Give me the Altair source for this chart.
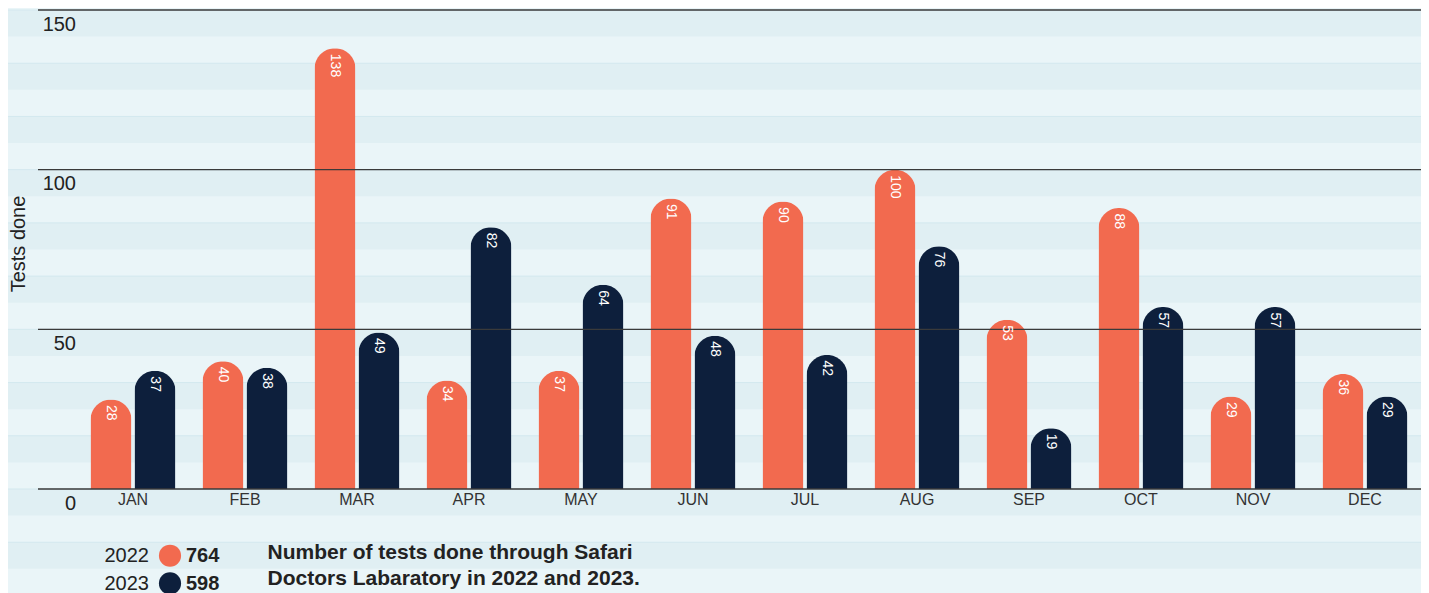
import altair as alt
import pandas as pd

# ---------------- data ----------------
months = ["JAN", "FEB", "MAR", "APR", "MAY", "JUN", "JUL", "AUG", "SEP", "OCT", "NOV", "DEC"]
tests_2022 = [28, 40, 138, 34, 37, 91, 90, 100, 53, 88, 29, 36]
tests_2023 = [37, 38, 49, 82, 64, 48, 42, 76, 19, 57, 57, 29]
years = ["2022", "2023"]
totals = [764, 598]
y_ticks = [0, 50, 100, 150]
y_title = "Tests done"
caption = "Number of tests done through Safari\nDoctors Labaratory in 2022 and 2023."

# ---------------- style ----------------
colors = ["#f26a4f", "#0d1f3c"]
bg_light = "#eaf5f8"
bg_dark = "#e0eff3"
stripe_line = "#d3e8ef"
grid_color = "#3a3a3a"
text_color = "#222222"
FONT = "Liberation Sans"

rows = []
for m, a, b in zip(months, tests_2022, tests_2023):
    rows.append({"month": m, "year": years[0], "tests": a})
    rows.append({"month": m, "year": years[1], "tests": b})
bars_df = pd.DataFrame(rows)

# background stripes (decoration: bands of 50/6 units)
step = 50 / 6
stripes = []
for k in range(0, 24, 2):
    top = 150 - step * k
    stripes.append({"y0": top - step, "y1": top})
stripes_df = pd.DataFrame(stripes)

x_enc = alt.X("month:N", sort=months, axis=None,
              scale=alt.Scale(paddingInner=27 / 112, paddingOuter=27 / 224))
xoff_enc = alt.XOffset("year:N", sort=years,
                       scale=alt.Scale(paddingInner=3 / 44, paddingOuter=0))
y_scale = alt.Scale(domain=[0, 150], nice=False, zero=False)

stripe_layer = alt.Chart(stripes_df).mark_rect(color=bg_dark).encode(
    x=alt.value(-90), x2=alt.value(1400),
    y=alt.Y("y0:Q", scale=y_scale, axis=None), y2="y1:Q",
)
stripe_lines = alt.Chart(stripes_df).mark_rule(color=stripe_line, strokeWidth=1).encode(
    x=alt.value(-90), x2=alt.value(1400),
    y=alt.Y("y1:Q", scale=y_scale, axis=None),
)

bars = alt.Chart(bars_df).mark_bar(
    cornerRadiusTopLeft=20.5, cornerRadiusTopRight=20.5
).encode(
    x=x_enc, xOffset=xoff_enc,
    y=alt.Y("tests:Q", scale=y_scale, axis=None),
    color=alt.Color("year:N", scale=alt.Scale(domain=years, range=colors), legend=None),
)

grid = alt.Chart(pd.DataFrame({"t": y_ticks})).mark_rule(
    color=grid_color, strokeWidth=1.4
).encode(
    x=alt.value(-39), x2=alt.value(1347),
    y=alt.Y("t:Q", scale=y_scale, axis=None),
)

tick_labels = alt.Chart(pd.DataFrame({"t": y_ticks})).mark_text(
    align="right", baseline="alphabetic", dy=20.5, fontSize=20, font=FONT, color=text_color
).encode(
    x=alt.value(-1),
    y=alt.Y("t:Q", scale=y_scale, axis=None),
    text="t:Q",
)

value_labels = alt.Chart(bars_df).mark_text(
    angle=90, align="left", baseline="middle", dx=5.5, fontSize=14, font=FONT, color="white"
).encode(
    x=x_enc, xOffset=xoff_enc,
    y=alt.Y("tests:Q", scale=y_scale, axis=None),
    text="tests:Q",
)

month_labels = alt.Chart(pd.DataFrame({"month": months})).mark_text(
    baseline="alphabetic", fontSize=16, font=FONT, color="#333333"
).encode(
    x=x_enc, y=alt.value(495), text="month:N",
)

ytitle = alt.Chart(pd.DataFrame({"t": [y_title]})).mark_text(
    angle=270, align="center", baseline="alphabetic", fontSize=20, font=FONT, color=text_color
).encode(
    x=alt.value(-52), y=alt.value(234), text="t:N",
)

legend_layers = []
for i, (yr, tot, col) in enumerate(zip(years, totals, colors)):
    row_y = 552.3 + i * 27.7
    ldf = pd.DataFrame({"year": [yr], "total": [tot]})
    legend_layers.append(
        alt.Chart(ldf).mark_text(align="right", baseline="alphabetic", fontSize=20,
                                 font=FONT, color=text_color)
        .encode(x=alt.value(72), y=alt.value(row_y), text="year:N")
    )
    legend_layers.append(
        alt.Chart(ldf).mark_circle(size=490, opacity=1, color=col)
        .encode(x=alt.value(93), y=alt.value(row_y - 6.6))
    )
    legend_layers.append(
        alt.Chart(ldf).mark_text(align="left", baseline="alphabetic", fontSize=20,
                                 fontWeight="bold", font=FONT, color=text_color)
        .encode(x=alt.value(109), y=alt.value(row_y), text="total:Q")
    )

caption_layer = alt.Chart(pd.DataFrame({"c": [caption]})).mark_text(
    align="left", baseline="alphabetic", fontSize=21, fontWeight="bold",
    font=FONT, color=text_color, lineBreak="\n", lineHeight=26
).encode(
    x=alt.value(190.5), y=alt.value(548.7), text="c:N",
)

chart = alt.layer(
    stripe_layer, stripe_lines, bars, grid, value_labels, tick_labels,
    month_labels, ytitle, *legend_layers, caption_layer
).properties(
    width=1344, height=479,
    padding={"left": 69, "top": 2, "right": 0, "bottom": 104},
    autosize=alt.AutoSizeParams(type="none"),
    background=bg_light,
).configure_view(strokeWidth=0)

chart.save("out.html", embed_options={"renderer": "svg", "actions": False})
